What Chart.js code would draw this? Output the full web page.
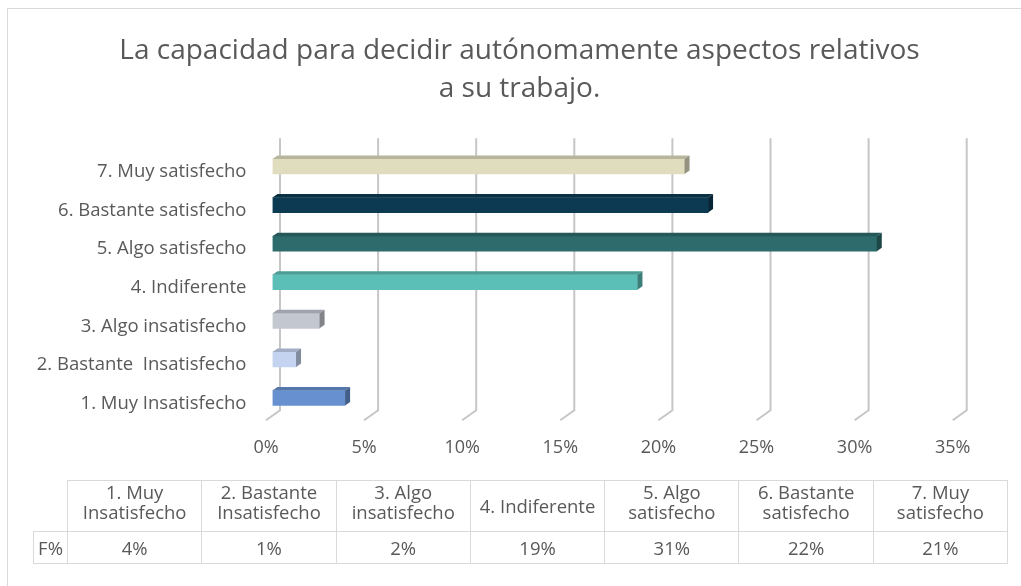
<!DOCTYPE html>
<html>
<head>
<meta charset="utf-8">
<script src="https://cdn.jsdelivr.net/npm/chart.js@4.4.1/dist/chart.umd.min.js"></script>
<style>
  html, body { margin: 0; padding: 0; background: #fff; }
  #wrap { position: relative; width: 1021px; height: 586px; overflow: hidden; background: #fff; }
  #frame { position: absolute; left: 7px; top: 8px; width: 1040px; height: 600px; border: 1.5px solid #d9d9d9; box-sizing: border-box; }
  #c { position: absolute; left: 0; top: 0; }
  #title { position: absolute; left: 19.5px; width: 1000px; top: 28.5px; text-align: center; font-family: 'Open Sans', sans-serif; font-size: 28px; line-height: 38px; color: #595959; white-space: pre-line; }
  #tbl { position: absolute; left: 33px; top: 480px; border-collapse: collapse; font-family: 'Open Sans', sans-serif; font-size: 18.5px; color: #595959; table-layout: fixed; }
  #tbl td { border: 1px solid #d9d9d9; text-align: center; padding: 0; line-height: 20px; white-space: pre-line; overflow: hidden; }
  #tbl tr.h td { height: 51px; vertical-align: middle; padding-bottom: 0; box-sizing: border-box; }
  #tbl tr.h td.two { padding-bottom: 9px; }
  #tbl tr.d td { height: 32px; vertical-align: middle; box-sizing: border-box; }
  #tbl td.blank { border-top: none; border-left: none; }
</style>
</head>
<body>
<div id="wrap">
  <div id="frame"></div>
  <canvas id="c" width="1021" height="586"></canvas>
  <div id="title"></div>
  <table id="tbl"></table>
</div>
<script>
// ---- data ----
const titleLines = ['La capacidad para decidir autónomamente aspectos relativos', 'a su trabajo.'];
const categories = ['1. Muy Insatisfecho', '2. Bastante  Insatisfecho', '3. Algo insatisfecho', '4. Indiferente', '5. Algo satisfecho', '6. Bastante satisfecho', '7. Muy satisfecho'];
const tableHeaders = ['1. Muy\nInsatisfecho', '2. Bastante\nInsatisfecho', '3. Algo\ninsatisfecho', '4. Indiferente', '5. Algo\nsatisfecho', '6. Bastante\nsatisfecho', '7. Muy\nsatisfecho'];
const values = [3.7, 1.2, 2.4, 18.6, 30.8, 22.2, 21.0];
const tableRowLabel = 'F%';
const xTicks = [0, 5, 10, 15, 20, 25, 30, 35];
const barColors = ['#6690D0', '#C4D3F0', '#C3C7D0', '#5BBFB7', '#2E6B6C', '#0B3A52', '#E0DDBF'];

// ---- title ----
document.getElementById('title').textContent = titleLines.join('\n');

// ---- table ----
(function buildTable() {
  const t = document.getElementById('tbl');
  const cg = document.createElement('colgroup');
  const c0 = document.createElement('col'); c0.style.width = '34px'; cg.appendChild(c0);
  tableHeaders.forEach(() => { const c = document.createElement('col'); c.style.width = '134.3px'; cg.appendChild(c); });
  t.appendChild(cg);
  const h = document.createElement('tr'); h.className = 'h';
  const b = document.createElement('td'); b.className = 'blank'; h.appendChild(b);
  tableHeaders.forEach(s => {
    const td = document.createElement('td');
    td.textContent = s;
    if (s.indexOf('\n') >= 0) td.className = 'two';
    h.appendChild(td);
  });
  t.appendChild(h);
  const d = document.createElement('tr'); d.className = 'd';
  const l = document.createElement('td'); l.textContent = tableRowLabel; d.appendChild(l);
  values.forEach(v => { const td = document.createElement('td'); td.textContent = Math.round(v) + '%'; d.appendChild(td); });
  t.appendChild(d);
})();

// ---- helpers ----
function shade(hex, f) {
  const n = parseInt(hex.slice(1), 16);
  const r = Math.round(((n >> 16) & 255) * f), g = Math.round(((n >> 8) & 255) * f), bl = Math.round((n & 255) * f);
  return 'rgb(' + r + ',' + g + ',' + bl + ')';
}
const BACK = 7.5, FRONT = -6.5;

const gridPlugin = {
  id: 'grid3d',
  beforeDatasetsDraw(chart) {
    const ctx = chart.ctx, xs = chart.scales.x, a = chart.chartArea;
    ctx.save();
    ctx.strokeStyle = '#c6c6c6';
    ctx.lineWidth = 2;
    xTicks.forEach(v => {
      const px = xs.getPixelForValue(v);
      ctx.beginPath();
      ctx.moveTo(px + BACK, a.top - 9);
      ctx.lineTo(px + BACK, a.bottom - 7);
      ctx.lineTo(px + FRONT, a.bottom + 3);
      ctx.stroke();
    });
    ctx.restore();
  }
};

const bar3dPlugin = {
  id: 'bar3d',
  afterDatasetsDraw(chart) {
    const ctx = chart.ctx;
    const meta = chart.getDatasetMeta(0);
    const dx = 5, dy = 3.5;
    ctx.save();
    meta.data.forEach((el, i) => {
      const p = el.getProps(['x', 'y', 'base', 'height'], true);
      const top = p.y - p.height / 2, bot = p.y + p.height / 2;
      const col = barColors[i];
      ctx.fillStyle = shade(col, 0.82);
      ctx.beginPath();
      ctx.moveTo(p.base, top);
      ctx.lineTo(p.base + dx, top - dy);
      ctx.lineTo(p.x + dx, top - dy);
      ctx.lineTo(p.x, top);
      ctx.closePath();
      ctx.fill();
      ctx.fillStyle = shade(col, 0.66);
      ctx.beginPath();
      ctx.moveTo(p.x, top);
      ctx.lineTo(p.x + dx, top - dy);
      ctx.lineTo(p.x + dx, bot - dy);
      ctx.lineTo(p.x, bot);
      ctx.closePath();
      ctx.fill();
    });
    ctx.restore();
  }
};

new Chart(document.getElementById('c'), {
  type: 'bar',
  data: {
    labels: categories,
    datasets: [{
      data: values,
      backgroundColor: barColors,
      borderWidth: 0,
      barThickness: 15
    }]
  },
  options: {
    indexAxis: 'y',
    responsive: false,
    animation: false,
    layout: { padding: { left: 0, right: 61.8, top: 147.2, bottom: 108.7 } },
    plugins: {
      legend: { display: false },
      tooltip: { enabled: false },
      title: { display: false }
    },
    scales: {
      x: {
        min: 0, max: 35,
        grid: { display: false, drawTicks: false },
        border: { display: false },
        afterFit(s) { s.height = 60; },
        afterBuildTicks(s) { s.ticks = xTicks.map(v => ({ value: v })); },
        ticks: {
          padding: 20,
          labelOffset: -6.5,
          color: '#595959',
          font: { family: 'Open Sans', size: 18 },
          callback: v => v + '%'
        }
      },
      y: {
        reverse: true,
        grid: { display: false, drawTicks: false },
        border: { display: false },
        afterFit(s) { s.width = 272.5; },
        ticks: {
          padding: 26,
          labelOffset: 5.5,
          color: '#595959',
          font: { family: 'Open Sans', size: 18.5 }
        }
      }
    }
  },
  plugins: [gridPlugin, bar3dPlugin]
});
</script>
</body>
</html>
